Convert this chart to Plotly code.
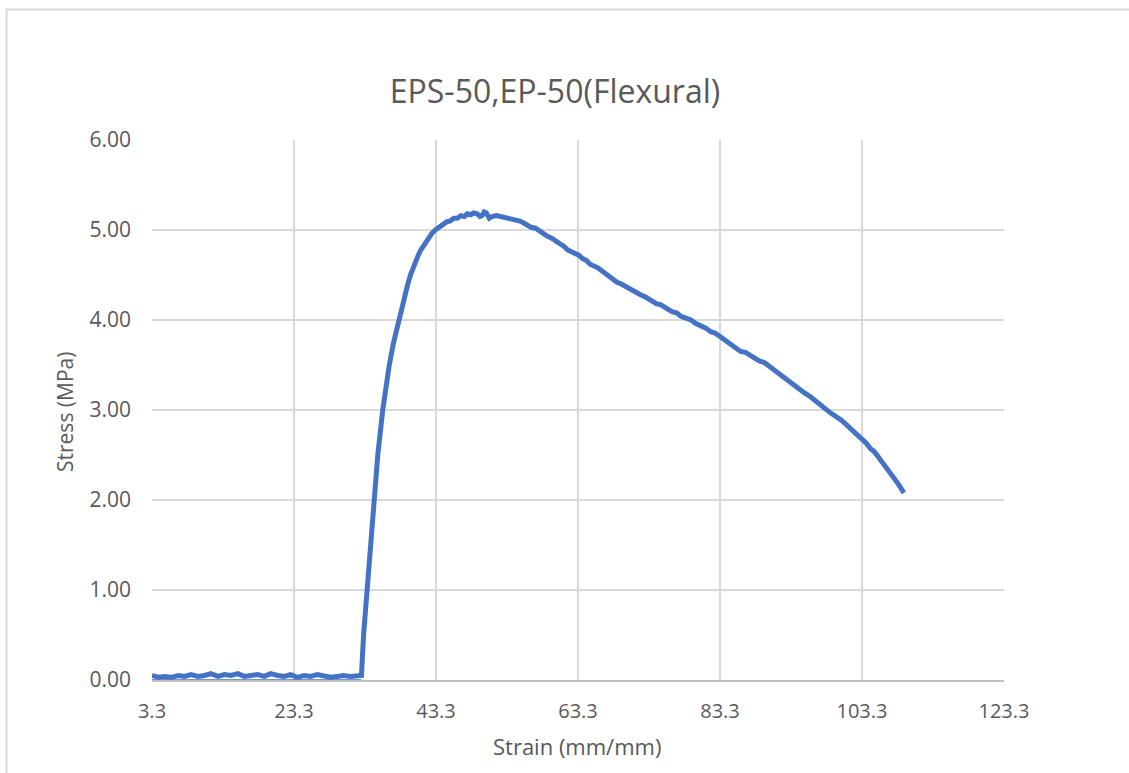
import plotly.graph_objects as go

# Flexural test record: strain (mm/mm) vs stress (MPa)
strain = [
    3.3, 4.2, 5.1, 6.0, 7.0, 7.9, 8.8, 9.8, 10.7, 11.6, 12.6, 13.5, 14.4, 15.4,
    16.3, 17.2, 18.2, 19.1, 20.0, 21.0, 21.9, 22.8, 23.8, 24.7, 25.6, 26.6,
    27.5, 28.4, 29.4, 30.3, 31.2, 32.2, 32.6,
    32.8, 33.1, 33.6, 34.1, 34.5, 35.1, 35.8, 36.2, 36.7, 37.3, 37.7, 38.1,
    38.5, 38.9, 39.3, 39.7, 40.1, 40.4, 40.8, 41.1, 41.7, 42.2, 42.7, 43.2,
    43.7, 44.2, 44.8, 45.3, 45.8, 46.3, 46.8, 47.3, 47.7, 48.2, 48.6, 49.1,
    49.5, 49.8, 50.1, 50.4, 50.8, 51.2, 51.8, 52.4, 53.0, 53.5, 54.0, 54.6,
    55.1, 55.6, 56.2, 56.7, 57.3, 58.0, 58.5, 59.0, 59.6, 60.2, 60.7, 61.3,
    61.8, 62.3, 62.9, 63.4, 64.0, 64.5, 65.0, 65.6, 66.1, 66.6, 67.2, 67.7,
    68.2, 68.8, 69.4, 70.0, 70.5, 71.0, 71.6, 72.1, 72.7, 73.3, 73.8, 74.4,
    74.9, 75.5, 76.0, 76.6, 77.2, 77.8, 78.5, 79.2, 79.9, 80.6, 81.3, 82.0,
    82.7, 83.4, 84.1, 84.8, 85.5, 86.2, 86.9, 87.6, 88.3, 89.0, 89.5, 90.0,
    90.8, 91.5, 92.2, 93.0, 93.7, 94.5, 95.2, 96.0, 96.7, 97.5, 98.2, 99.0,
    99.7, 100.5, 101.2, 102.0, 102.7, 103.35, 103.9, 104.5, 105.0, 105.5,
    106.2, 106.9, 107.5, 108.0, 108.4, 108.8, 109.0, 109.2,
]
stress = [
    0.05, 0.03, 0.04, 0.03, 0.05, 0.04, 0.06, 0.04, 0.05, 0.07, 0.04, 0.06,
    0.05, 0.07, 0.04, 0.05, 0.06, 0.04, 0.07, 0.05, 0.04, 0.06, 0.03, 0.05,
    0.04, 0.06, 0.05, 0.03, 0.04, 0.05, 0.04, 0.05, 0.04,
    0.05, 0.50, 1.00, 1.50, 2.00, 2.50, 3.00, 3.24, 3.49, 3.74, 3.88, 4.01,
    4.14, 4.27, 4.39, 4.50, 4.59, 4.65, 4.72, 4.77, 4.85, 4.91, 4.96, 5.00,
    5.03, 5.05, 5.09, 5.10, 5.13, 5.13, 5.16, 5.15, 5.18, 5.17, 5.19, 5.18,
    5.15, 5.16, 5.20, 5.19, 5.13, 5.15, 5.16, 5.15, 5.14, 5.12, 5.12, 5.10,
    5.10, 5.08, 5.05, 5.03, 5.02, 4.98, 4.96, 4.93, 4.91, 4.87, 4.85, 4.82,
    4.78, 4.76, 4.74, 4.72, 4.68, 4.66, 4.62, 4.60, 4.58, 4.55, 4.51, 4.49,
    4.45, 4.42, 4.40, 4.37, 4.35, 4.33, 4.30, 4.28, 4.26, 4.23, 4.20, 4.18,
    4.17, 4.14, 4.11, 4.09, 4.08, 4.04, 4.02, 4.00, 3.96, 3.94, 3.91, 3.87,
    3.85, 3.81, 3.77, 3.73, 3.70, 3.65, 3.64, 3.60, 3.57, 3.54, 3.53, 3.50,
    3.45, 3.41, 3.37, 3.31, 3.28, 3.22, 3.19, 3.15, 3.10, 3.06, 3.01, 2.96,
    2.93, 2.88, 2.83, 2.77, 2.73, 2.67, 2.63, 2.57, 2.54, 2.49, 2.42,
    2.35, 2.29, 2.22, 2.18, 2.13, 2.10, 2.08,
]
# unloaded baseline recorded at zero stress
base_strain = [3.3, 32.8]
base_stress = [0.0, 0.0]

x_ticks = [3.3, 23.3, 43.3, 63.3, 83.3, 103.3, 123.3]
x_tick_text = ["3.3", "23.3", "43.3", "63.3", "83.3", "103.3", "123.3"]
y_ticks = [0, 1, 2, 3, 4, 5, 6]

BLUE = "#4472C4"
GRID = "#D9D9D9"
TEXT = "#595959"
FONT = "Open Sans"

fig = go.Figure()
fig.add_trace(go.Scatter(x=base_strain, y=base_stress, mode="lines",
                         line=dict(color=BLUE, width=1.5), showlegend=False,
                         hoverinfo="skip"))
fig.add_trace(go.Scatter(x=strain, y=stress, mode="lines",
                         line=dict(color=BLUE, width=5), showlegend=False))

# plot area: x 152..1004 px, y 140..680 px
L, R, T, B = 152, 1004, 140, 680
W, H = 1129, 773
pw, ph = R - L, B - T

fig.update_layout(
    width=W, height=H,
    margin=dict(l=L, r=W - R, t=T, b=H - B),
    paper_bgcolor="white", plot_bgcolor="white",
    font=dict(family=FONT, color=TEXT, size=20),
    title=dict(text="EPS-50,EP-50(Flexural)", x=(555 - L) / pw, xref="paper",
               xanchor="center", y=1 - 92 / H, yref="container",
               yanchor="middle", font=dict(size=32, color=TEXT, family=FONT)),
    xaxis=dict(range=[3.3, 123.3], tickvals=x_ticks, ticktext=x_tick_text,
               showgrid=True, gridcolor=GRID, gridwidth=1.5, zeroline=False,
               showline=True, linecolor="#BFBFBF", linewidth=2,
               ticks="", ticklabelstandoff=12, mirror=False,
               tickfont=dict(size=20, color=TEXT)),
    yaxis=dict(range=[0, 6], tickvals=y_ticks, tickformat=".2f",
               showgrid=True, gridcolor=GRID, gridwidth=1.5, zeroline=False,
               showline=False, ticks="", ticklabelstandoff=20,
               tickfont=dict(size=21, color=TEXT)),
    annotations=[
        dict(text="Strain (mm/mm)", xref="paper", yref="paper",
             x=(577 - L) / pw, y=(B - 746) / ph, xanchor="center",
             yanchor="middle", showarrow=False,
             font=dict(size=22, color=TEXT, family=FONT)),
        dict(text="Stress (MPa)", xref="paper", yref="paper",
             x=(65 - L) / pw, y=(B - 412) / ph, xanchor="center",
             yanchor="middle", textangle=-90, showarrow=False,
             font=dict(size=21, color=TEXT, family=FONT)),
    ],
    shapes=[
        # chart area outline (top and left edges)
        dict(type="line", xref="paper", yref="paper",
             x0=(6.5 - L) / pw, x1=(W + 5 - L) / pw,
             y0=(B - 9.5) / ph, y1=(B - 9.5) / ph,
             line=dict(color=GRID, width=2)),
        dict(type="line", xref="paper", yref="paper",
             x0=(6.5 - L) / pw, x1=(6.5 - L) / pw,
             y0=(B - 9.5) / ph, y1=(B - H - 5) / ph,
             line=dict(color=GRID, width=2)),
    ],
)

fig.write_html("out.html")
